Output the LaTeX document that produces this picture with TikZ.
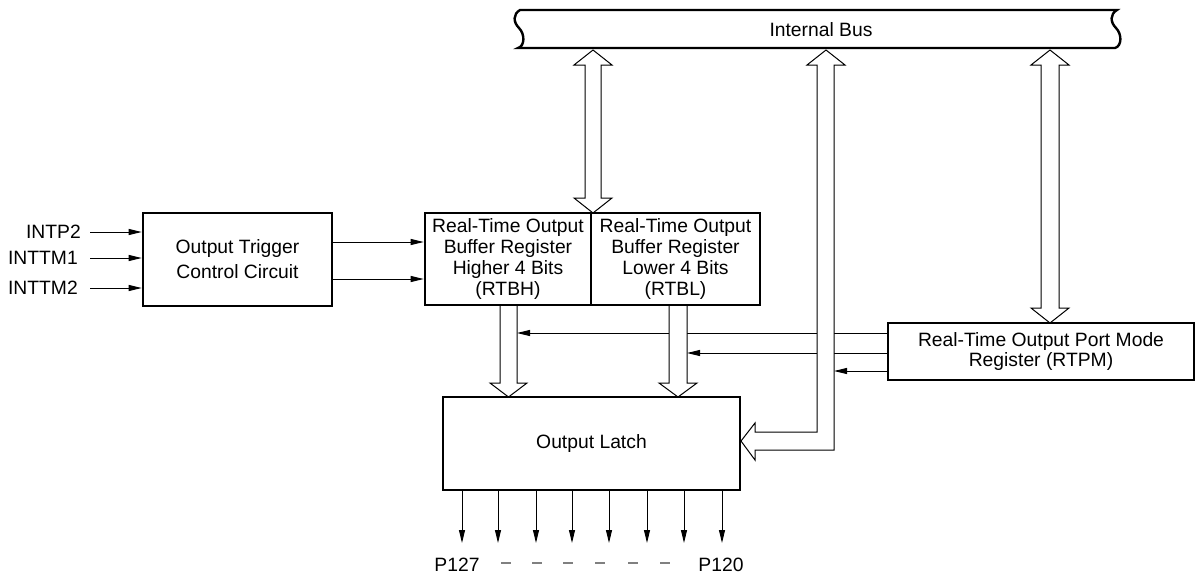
\documentclass[tikz,border=0pt]{standalone}
\usepackage{fontspec}
\setmainfont{Liberation Sans}
\usetikzlibrary{arrows.meta}
\begin{document}
\begin{tikzpicture}[x=1pt,y=-1pt,
  box/.style={draw, line width=2.6pt, rectangle, inner sep=0pt, align=center},
  sig/.style={line width=1pt, -{Triangle[length=13pt,width=6pt]}},
  hollow/.style={draw, fill=white, line width=1pt, line join=miter},
  lbl/.style={inner sep=0pt, font=\fontsize{19.3}{22}\selectfont}
]
\useasboundingbox (0,0) rectangle (1197,574);

% Internal bus
\draw[line width=2.4pt, fill=white] (520,10) -- (1117,10)
  .. controls (1110,14) and (1110,22) .. (1116,28)
  .. controls (1122,34) and (1122,46) .. (1115,48)
  -- (518,48)
  .. controls (525,46) and (525,34) .. (519,28)
  .. controls (513,22) and (513,14) .. (520,10) -- cycle;
\node[lbl] (bus) at (821,30) {Internal Bus};

% boxes
\node[box, minimum width=189pt, minimum height=93pt,
  font=\fontsize{19.3}{25}\selectfont] (trig) at (237.5,259.5)
  {Output Trigger\\Control Circuit};
\node[box, minimum width=166pt, minimum height=92pt,
  font=\fontsize{19.3}{20.7}\selectfont] (rtbh) at (508,259)
  {Real-Time Output\\Buffer Register\\Higher 4 Bits\\(RTBH)};
\node[box, minimum width=169pt, minimum height=92pt,
  font=\fontsize{19.3}{20.7}\selectfont] (rtbl) at (675.5,259)
  {Real-Time Output\\Buffer Register\\Lower 4 Bits\\(RTBL)};
\node[box, minimum width=306pt, minimum height=57pt,
  font=\fontsize{19.3}{20.5}\selectfont] (rtpm) at (1041,351.5)
  {Real-Time Output Port Mode\\Register (RTPM)};
\node[box, minimum width=297pt, minimum height=93pt,
  font=\fontsize{19.3}{22}\selectfont] (latch) at (591.5,443.5)
  {Output Latch};

% inputs
\coordinate (i1) at (90,232);
\coordinate (i2) at (90,258);
\coordinate (i3) at (90,288);
\node[lbl, anchor=east] (l1) at (81,232) {INTP2};
\node[lbl, anchor=east] (l2) at (78,258) {INTTM1};
\node[lbl, anchor=east] (l3) at (78,288) {INTTM2};
\draw[sig] (i1) -- (i1 -| trig.west);
\draw[sig] (i2) -- (i2 -| trig.west);
\draw[sig] (i3) -- (i3 -| trig.west);

% trigger outputs
\draw[sig] (trig.east |- 0,242) -- (rtbh.west |- 0,242);
\draw[sig] (trig.east |- 0,279) -- (rtbh.west |- 0,279);

% RTPM control lines
\coordinate (c1) at (517,333);
\coordinate (c2) at (687,353);
\coordinate (c3) at (834,371);
\draw[sig] (rtpm.west |- c1) -- (c1);
\draw[sig] (rtpm.west |- c2) -- (c2);
\draw[sig] (rtpm.west |- c3) -- (c3);

% hollow arrows
% bus <-> RTBH/RTBL
\draw[hollow] (593,50) -- (612,65) -- (601,65) -- (601,198) -- (612,198)
  -- (593,213) -- (574,198) -- (585,198) -- (585,65) -- (574,65) -- cycle;
% bus <-> RTPM
\draw[hollow] (1050,50) -- (1069,65) -- (1059,65) -- (1059,308) -- (1069,308)
  -- (1050,323) -- (1031,308) -- (1041,308) -- (1041,65) -- (1031,65) -- cycle;
% bus -> output latch
\draw[hollow] (826,50) -- (845,65) -- (834,65) -- (834,450) -- (755,450)
  -- (755,460) -- (741,441) -- (755,423) -- (755,432) -- (817,432)
  -- (817,65) -- (807,65) -- cycle;
% RTBH -> latch
\draw[hollow] (500,306) -- (500,383) -- (490,383) -- (508.5,397) -- (527,383)
  -- (517,383) -- (517,306);
% RTBL -> latch
\draw[hollow] (669,306) -- (669,383) -- (659,383) -- (678,397) -- (697,383)
  -- (687,383) -- (687,306);

% output pins
\foreach \x [count=\i] in {462,498,536,572,609,647,684,722}
  \draw[sig] (latch.south -| \x,0) -- (\x,543);
\node[lbl] (p127) at (457,565) {P127};
\node[lbl] (p120) at (721,565) {P120};
\foreach \x in {506,537,568,600,633,665}
  \draw[gray, line width=1.3pt] (\x-5,563) -- (\x+5,563);
\end{tikzpicture}
\end{document}
